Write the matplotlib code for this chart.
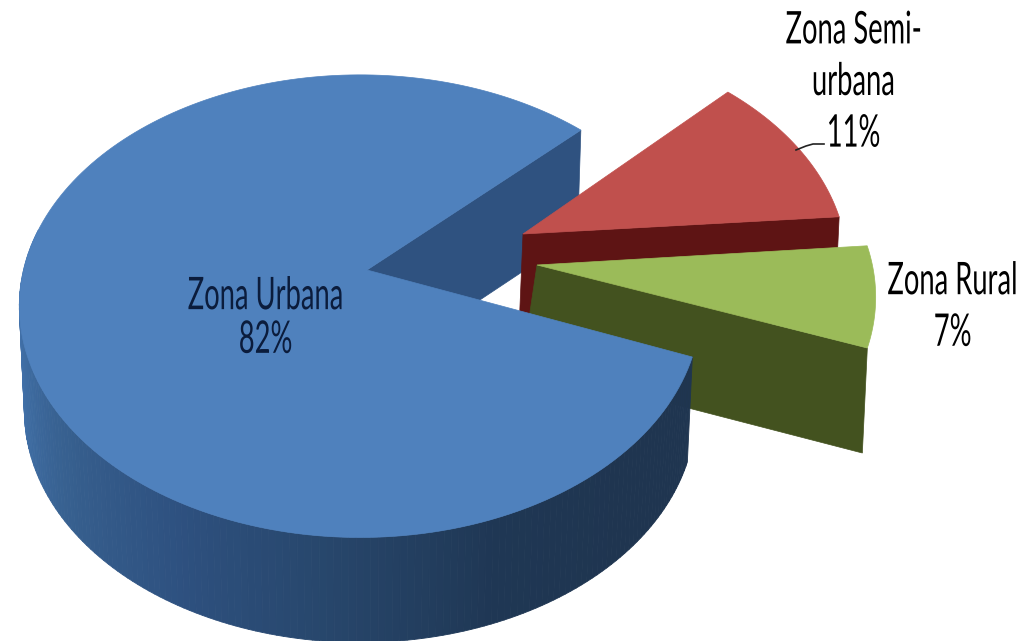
import numpy as np
import matplotlib
matplotlib.use("Agg")
import matplotlib.pyplot as plt
import matplotlib.patheffects as pe
from matplotlib.colors import LinearSegmentedColormap
from matplotlib.collections import PolyCollection
from matplotlib.transforms import Affine2D

# data, counter-clockwise from the back edge of the blue slice
labels = ["Zona Urbana\n82%", "Zona Rural\n7%", "Zona Semi-\nurbana\n11%"]
shares = [82, 7, 11]

start_angle = 43.0
angles = start_angle + np.cumsum([0] + shares) * 3.6

# pie geometry in pixels
rx, ry = 336, 225
persp = 0.165
depth = 105
shrink = 0.985
rim_center = {"blue": (360, 268), "green": (535, 259), "red": (507, 230)}
apex_top = {"blue": (367, 270), "green": (537, 265), "red": (523, 234)}
apex_bot = {"blue": (367, 375), "green": (522, 365), "red": (519, 330)}

top_col = {"blue": "#4f81bd", "green": "#9bbb59", "red": "#c0504d"}
side_col = {"blue": "#2f5280", "green": "#43521f", "red": "#5e1414"}
font = ["Lato", "DejaVu Sans"]


class Condensed(pe.AbstractPathEffect):
    # squeeze each text line around its own centre, the source font is a tall narrow one
    def __init__(self, sx, sy, dx=0):
        super().__init__()
        self.sx, self.sy, self.dx = sx, sy, dx

    def draw_path(self, renderer, gc, tpath, affine, rgbFace=None):
        w = tpath.get_extents(affine).width
        new = Affine2D().scale(self.sx, self.sy) + affine
        new = new + Affine2D().translate(w * (1 - self.sx) / 2 + self.dx, 0)
        renderer.draw_path(gc, tpath, new, rgbFace)


def rim(name, theta, lower=False):
    t = np.radians(theta)
    u, v = np.cos(t), np.sin(t)
    w = 1 + persp * v
    cx, cy = rim_center[name]
    sx = shrink if lower else 1
    dy = depth if lower else 0
    return np.column_stack([cx + sx * rx * u / w, cy + dy - ry * v / w])


def top_face(name, a0, a1):
    arc = rim(name, np.linspace(a0, a1, 200))
    return np.vstack([[apex_top[name]], arc])


def cut_face(name, a):
    return np.vstack([[apex_top[name]], rim(name, np.array([a])),
                      rim(name, np.array([a]), lower=True), [apex_bot[name]]])


fig = plt.figure(figsize=(10.33, 6.41), dpi=100)
ax = fig.add_axes([0, 0, 1, 1])
ax.set_xlim(0, 1033)
ax.set_ylim(641, 0)
ax.axis("off")

# blue slice, back cut
ax.fill(*cut_face("blue", angles[0]).T, color=side_col["blue"], lw=0.5, zorder=1)

# red slice
ax.fill(*cut_face("red", angles[2]).T, color=side_col["red"], lw=0.5, zorder=2)
ax.fill(*top_face("red", angles[2], angles[3]).T, color=top_col["red"], lw=0.5, zorder=3)

# green slice
ax.fill(*cut_face("green", angles[1]).T, color=side_col["green"], lw=0.5, zorder=4)
ax.fill(*top_face("green", angles[1], angles[2]).T, color=top_col["green"], lw=0.5, zorder=5)

# blue outer wall with gradient
wall = LinearSegmentedColormap.from_list(
    "wall", ["#4878b2", "#4170a8", "#37608f", "#2e5180", "#27466b", "#1f3754", "#1f3550", "#1f3550"])
th = np.linspace(170, angles[1], 160)
upper, lower = rim("blue", th), rim("blue", th, lower=True)
quads = [[upper[i], upper[i + 1], lower[i + 1], lower[i]] for i in range(len(th) - 1)]
cols = wall(np.linspace(0, 1, len(quads)))
ax.add_collection(PolyCollection(quads, facecolors=cols, edgecolors=cols, linewidths=0.6, zorder=6))

# blue top
ax.fill(*top_face("blue", angles[0], angles[1]).T, color=top_col["blue"], lw=0.5, zorder=7)

# labels
ax.text(266, 322, labels[0], ha="center", va="center", fontsize=24, family=font,
        color="#0b1c3c", linespacing=1.57, zorder=8, path_effects=[Condensed(0.82, 1.35)])
ax.text(928, 311, labels[1], ha="center", va="center", fontsize=24, family=font,
        color="black", linespacing=1.9, zorder=8, path_effects=[Condensed(0.82, 1.35, dx=25)])
ax.text(854, 86, labels[2], ha="center", va="center", fontsize=24, family=font,
        color="black", linespacing=1.9, zorder=8, path_effects=[Condensed(0.82, 1.35)])

# leader line for the red slice
ax.plot([796, 806, 813, 824], [150, 146, 144, 144], color="#222222", lw=1.2, zorder=8)

fig.savefig("out.png", dpi=100, facecolor="white")
